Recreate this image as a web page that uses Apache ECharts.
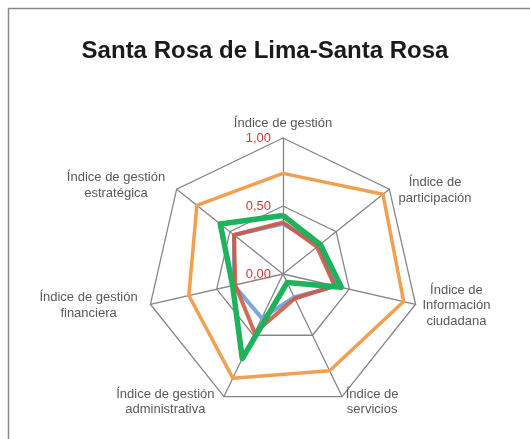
<!DOCTYPE html>
<html>
<head>
<meta charset="utf-8">
<script src="https://cdn.jsdelivr.net/npm/echarts@6/dist/echarts.min.js"></script>
<style>
html,body{margin:0;padding:0;background:#fff;}
#chart{width:530px;height:439px;}
</style>
</head>
<body>
<div id="chart"></div>
<script>
// Indicators in clockwise order starting at the top
var indicatorNames = [
  'Índice de gestión',
  'Índice de\nparticipación',
  'Índice de\nInformación\nciudadana',
  'Índice de\nservicios',
  'Índice de gestión\nadministrativa',
  'Índice de gestión\nfinanciera',
  'Índice de gestión\nestratégica'
];
var tickValues = [0, 0.5, 1];
var seriesOrange = [0.74, 0.94, 0.91, 0.79, 0.85, 0.71, 0.81];
var seriesBlue   = [0.37, 0.34, 0.40, 0.19, 0.36, 0.37, 0.46];
var seriesRed    = [0.38, 0.32, 0.39, 0.20, 0.48, 0.36, 0.46];
var seriesGreen  = [0.43, 0.35, 0.44, 0.07, 0.69, 0.38, 0.59];

// ECharts radar runs counter-clockwise: reorder (first stays at top)
function cw(arr) { return [arr[0]].concat(arr.slice(1).reverse()); }
var widths = [0, 82, 70, 55, 112, 112, 112];
var tags = ['t', 'p', 'i', 's', 'a', 'f', 'e'];
var topSpacer = { p: 10 };

var indicators = indicatorNames.map(function (n, i) {
  var ind = { name: n, min: tickValues[0], max: tickValues[tickValues.length - 1], tag: tags[i] };
  if (i === 0) {
    ind.axisLabel = {
      show: true,
      color: '#CC3B3B',
      fontSize: 13,
      fontFamily: 'Liberation Sans',
      margin: 12,
      formatter: function (v) { return v.toFixed(2).replace('.', ','); }
    };
  }
  return ind;
});
var baseRich = { color: '#595959', fontSize: 13, fontFamily: 'Liberation Sans', lineHeight: 15.5, align: 'center' };
var richStyles = {};
tags.forEach(function (t, i) {
  richStyles[t] = Object.assign({}, baseRich, widths[i] ? { width: widths[i] } : {});
  if (topSpacer[t]) {
    richStyles[t + 'sp'] = { fontSize: 1, lineHeight: topSpacer[t] };
  }
});

var chart = echarts.init(document.getElementById('chart'), null, { renderer: 'canvas' });
chart.setOption({
  backgroundColor: '#fff',
  animation: false,
  graphic: [{
    type: 'rect', shape: { x: 8.5, y: 8.5, width: 560, height: 470 },
    style: { fill: 'none', stroke: '#8a8a8a', lineWidth: 1.5 }, silent: true
  }],
  title: {
    text: 'Santa Rosa de Lima-Santa Rosa',
    left: 'center', top: 34,
    textStyle: { fontFamily: 'Liberation Sans', fontWeight: 'bold', fontSize: 24, color: '#1a1a1a' }
  },
  radar: {
    center: [283, 274],
    radius: 136,
    startAngle: 90,
    shape: 'polygon',
    splitNumber: tickValues.length - 1,
    indicator: cw(indicators),
    nameGap: 6,
    axisName: {
      color: '#595959', fontSize: 13, fontFamily: 'Liberation Sans', lineHeight: 15.5,
      rich: richStyles,
      formatter: function (name, ind) {
        var s = name.split('\n').map(function (l) {
          return '{' + ind.tag + '|' + l + '}';
        }).join('\n');
        if (topSpacer[ind.tag]) s = '{' + ind.tag + 'sp| }\n' + s;
        return s;
      }
    },
    axisLine: { lineStyle: { color: '#868686', width: 1.3 } },
    splitLine: { lineStyle: { color: '#868686', width: 1.3 } },
    splitArea: { show: false },
    axisTick: { show: false },
    axisLabel: { show: false }
  },
  series: [{
    type: 'radar',
    symbol: 'none',
    data: [
      { value: cw(seriesOrange), lineStyle: { color: '#F0A050', width: 3.5 } },
      { value: cw(seriesBlue), lineStyle: { color: '#7EA6DA', width: 4 } },
      { value: cw(seriesRed), lineStyle: { color: '#CC5A45', width: 4, opacity: 0.9 } },
      { value: cw(seriesGreen), lineStyle: { color: '#1DB25B', width: 5.5 } }
    ]
  }]
});
</script>
</body>
</html>
